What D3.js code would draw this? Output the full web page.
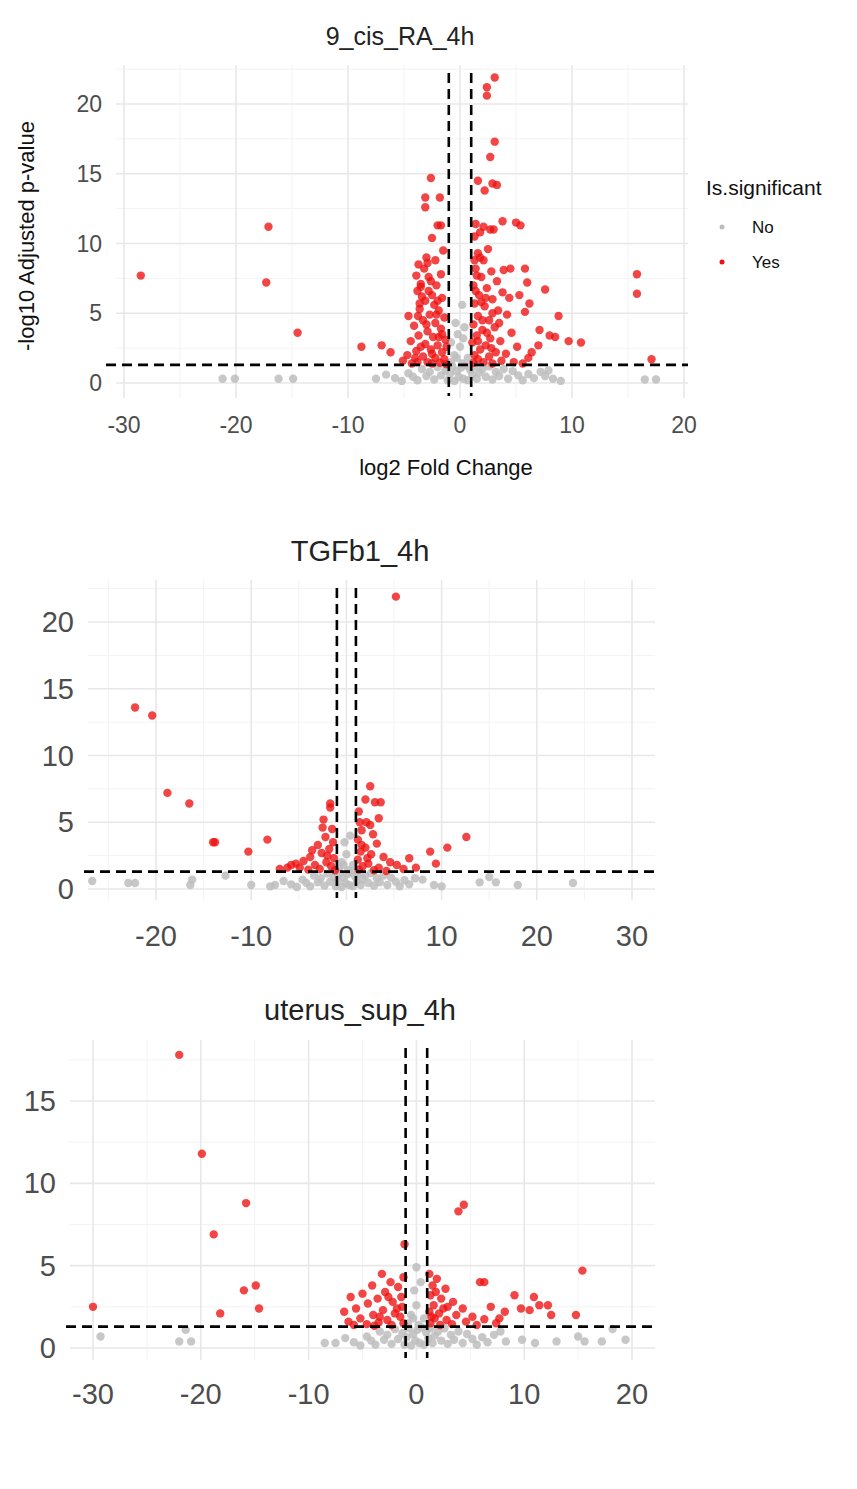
<!DOCTYPE html>
<html><head><meta charset="utf-8">
<script src="https://cdn.jsdelivr.net/npm/d3@7"></script>
<style>body{margin:0;background:#fff}text{font-family:"Liberation Sans",Arial,sans-serif}</style>
</head><body><svg id="c" width="857" height="1489"></svg>
<script>
const titles=["9_cis_RA_4h","TGFb1_4h","uterus_sup_4h"];
const xTicks=[[-30,-20,-10,0,10,20],[-20,-10,0,10,20,30],[-30,-20,-10,0,10,20]];
const yTicks=[[0,5,10,15,20],[0,5,10,15,20],[0,5,10,15]];
// shared dense grey band (non-significant genes near zero)
const band=[-5.8,0.35,-5.2,0.15,-4.6,0.7,-4.2,0.45,-3.8,0.2,-3.4,1.0,-3.0,0.5,-2.7,0.8,-2.3,0.25,-2.0,1.15,-1.7,0.55,-1.3,0.9,-1.1,0.2,-0.9,0.65,-0.7,1.2,-0.5,0.15,-0.3,0.85,-0.1,0.45,0.1,1.1,0.3,0.3,0.5,1.25,0.7,0.2,0.9,0.95,1.1,0.6,1.3,1.2,1.5,0.3,1.7,0.75,2.0,1.0,2.3,0.45,2.6,1.2,2.9,0.25,3.2,0.8,3.5,0.5,3.9,1.0,4.3,0.3,4.7,0.85,5.2,0.55,5.6,0.2,6.1,0.65,6.6,0.35,7.2,0.8,-6.6,0.6,-7.5,0.3,-0.2,3.5,0.4,4.0,-0.5,2.0,0.0,2.6,0.7,1.8,-0.8,1.5,0.2,1.4,-0.3,1.8];
// panel 1
const sig1=[-28.5,7.7,-17.1,11.2,-17.3,7.2,-14.5,3.6,-8.8,2.6,15.8,7.8,15.8,6.4,17.1,1.7,3.1,21.9,2.4,21.2,2.4,20.6,3.1,17.3,2.7,16.2,-2.6,14.7,1.6,14.5,2.9,14.3,3.3,14.2,2.2,13.8,-3.1,13.3,-3.1,12.6,-1.8,13.3,-2,11.3,-1.7,11.3,2.1,11.2,2.7,11.0,-2.5,10.4,-3,9,-3.7,8.5,5.8,8.2,4.5,8.2,6,7.2,5.3,6.3,7.6,6.7,6.2,5.7,5.8,5.1,-3.75,4.8,-4.6,4.8,7.1,3.8,8.8,4.8,8,3.4,8.5,3.3,9.7,3,10.8,2.9,-7,2.7,-6.2,2.2,3.8,11.6,5,11.5,5.4,11.3,
-1.5,9.5,-2.2,8.8,-3.2,8.2,-2.8,7.6,-3.5,7.1,-2.1,7,-3.8,6.6,-2.5,6.3,-1.6,6.1,-3.1,5.9,-2.3,5.6,-3.6,5.3,-1.9,5.2,-2.7,4.9,-1.4,4.7,-3.3,4.5,-2.2,4.3,-4.1,4.1,-1.7,3.9,-2.9,3.7,-3.7,3.4,-2.4,3.3,-1.3,3.1,-4.4,3,-3.1,2.8,-2,2.7,-2.6,2.4,-3.9,2.3,-1.6,2.2,-4.7,2,-3.3,1.9,-2.2,1.8,-1.4,1.7,-5.1,1.6,-2.9,1.5,-3.8,1.5,-1.8,1.45,-4.3,1.4,-2.5,1.4,-1.2,1.35,-3.5,6.9,-2.9,8.6,-3.9,7.7,-2.0,5.9,-1.2,2.6,
-2.6,7.3,-3.4,6.2,-2.1,4.9,-3.0,4.2,-1.6,3.5,-2.5,2.1,-3.5,2.6,-1.9,3.3,-4.0,1.8,-2.8,6.6,-1.7,7.8,-3.6,5.7,
1.3,10.5,1.6,9.3,2.1,8.8,1.4,8.2,2.8,8.0,1.9,7.6,3.3,7.3,1.2,7.0,2.4,6.8,3.8,6.5,1.7,6.3,2.9,6.0,1.3,5.7,2.2,5.5,3.4,5.2,4.2,4.9,1.6,4.8,2.6,4.5,1.2,4.2,3.1,4.0,2.0,3.8,4.6,3.6,1.5,3.4,2.7,3.2,3.6,3.0,1.1,2.9,2.3,2.7,5.1,2.6,1.8,2.4,3.2,2.2,4.1,2.1,1.3,2.0,2.6,1.9,6.1,1.8,1.6,1.7,3.7,1.6,2.1,1.5,4.8,1.5,1.2,1.45,2.9,1.4,5.6,1.4,7.0,2.7,6.4,2.2,3.9,8.1,2.5,9.6,1.8,10.8,4.4,6.1,3.0,11.0,1.4,11.4,
1.5,7.7,2.3,6.1,1.4,6.6,2.0,4.5,2.9,5.0,1.6,3.0,2.4,3.6,1.3,8.8,1.8,9.0,3.5,4.3,2.8,2.5,1.9,5.8];
const ns1=[-21.2,0.3,-20.1,0.3,-16.2,0.3,-14.9,0.3,16.5,0.25,17.5,0.25,-0.4,4.3,0.2,5.6,0.3,3.2,-0.8,2.9,7.6,0.5,8.3,0.3,9.0,0.15,7.9,0.9];
// panel 2
const sig2=[-22.2,13.6,-20.4,13,-18.8,7.2,-16.5,6.4,-14,3.5,-13.8,3.5,-10.3,2.8,-8.3,3.7,5.2,21.9,2.5,7.7,2,6.7,3.6,6.5,-1.7,6.4,3.4,5.3,-2.5,4.6,12.6,3.9,10.6,3.1,8.8,2.8,9.4,1.9,
-1.5,4.5,-2.2,3.9,-3.0,3.3,-1.8,3.0,-2.6,2.7,-3.8,2.4,-1.3,2.3,-4.5,2.1,-2.1,2.0,-5.3,1.9,-3.3,1.8,-1.6,1.7,-6.2,1.6,-2.8,1.5,-4.0,1.45,-1.2,1.4,-7.0,1.5,-2.4,5.2,-1.7,6.1,-5.8,1.8,-3.6,2.9,-1.4,3.5,-2.0,2.5,-4.9,1.6,
1.3,5.8,2.1,5.0,1.6,4.4,2.8,4.1,1.2,3.7,3.2,3.4,2.0,3.1,1.5,2.8,2.6,2.6,3.9,2.4,1.2,2.2,4.6,2.0,2.3,1.9,5.3,1.8,1.7,1.7,3.4,1.6,6.0,1.5,1.3,1.45,2.9,1.4,4.2,1.35,7.3,1.6,3.0,6.5,2.5,4.8,6.6,2.3,1.6,3.3,2.2,2.3,1.4,5.0];
const ns2=[-8,0.2,9.2,0.3,-26.7,0.6,-22.9,0.45,-22.2,0.45,-16.4,0.3,-16.2,0.7,-12.7,1.0,14.0,0.5,15.0,0.9,15.7,0.5,18.0,0.3,23.8,0.45,10,0.2,-10,0.3,8.0,0.7];
// panel 3
const sig3=[-22,17.8,-19.9,11.8,-18.8,6.9,-15.8,8.8,-16,3.5,-14.9,3.8,-14.6,2.4,-18.2,2.1,-30,2.5,-1.1,6.3,4.4,8.7,3.9,8.3,15.4,4.7,14.8,2,12.2,2.6,10.9,3.1,9.1,3.2,
-1.2,4.3,-2.4,4.0,-3.2,4.5,-1.7,3.7,-4.1,3.8,-2.9,3.4,-5.0,3.3,-1.4,3.1,-3.6,3.0,-6.1,3.1,-2.2,2.8,-4.5,2.7,-1.3,2.5,-5.6,2.4,-3.1,2.3,-6.7,2.2,-2.0,2.1,-4.0,2.0,-1.5,1.9,-5.2,1.8,-2.7,1.7,-6.3,1.6,-3.5,1.55,-1.2,1.5,-4.6,1.45,-2.3,1.4,-5.8,1.4,-3.9,1.35,-2.6,3.1,-1.8,2.4,-3.4,1.9,
1.2,4.5,1.9,4.2,1.5,3.8,2.7,3.6,1.3,3.2,2.3,3.0,3.4,2.8,1.6,2.6,2.9,2.5,4.3,2.4,1.2,2.2,2.1,2.1,3.7,2.0,5.2,1.9,1.7,1.8,2.8,1.7,6.3,1.75,4.6,1.6,1.3,1.5,3.3,1.45,7.4,1.5,2.2,1.4,5.6,1.4,8.2,2.2,6.9,2.5,7.7,1.8,10.5,2.3,12.5,2.0,5.9,4.0,6.3,4.0,11.4,2.6,9.7,2.4,1.8,3.4,2.5,2.4,1.4,1.9];
const ns3=[0,4.9,-8.5,0.3,9.8,0.5,11,0.3,13,0.4,-29.3,0.7,-21.4,1.1,-22,0.4,-20.9,0.4,15.0,0.7,15.6,0.4,17.2,0.4,18.2,1.15,19.4,0.5,8.3,0.4,7.8,1.0];

const panels=[
 {sig:sig1,ns:ns1,x:[124,684],xd:[-30,20],y:[383,104],yd:[0,20],top:65,bot:398,left:116,fs:23,ts:25,ty:36,tx:400,tickY:425},
 {sig:sig2,ns:ns2,x:[156,632],xd:[-20,30],y:[889,622],yd:[0,20],top:580,bot:900,left:88,right:655,fs:29,ts:29,ty:551,tx:360,tickY:936},
 {sig:sig3,ns:ns3,x:[93,632],xd:[-30,20],y:[1348,1101],yd:[0,15],top:1040,bot:1360,left:70,right:655,fs:29,ts:29,ty:1010,tx:360,tickY:1394}
];
const svg=d3.select("#c");
const pairs=a=>{const r=[];for(let i=0;i<a.length;i+=2)r.push([a[i],a[i+1]]);return r;};
panels.forEach((p,i)=>{
 const xs=d3.scaleLinear().domain(p.xd).range(p.x);
 const ys=d3.scaleLinear().domain(p.yd).range(p.y);
 const L=p.left, R=p.right||p.x[1]+4;
 const x0=xs.invert(L), x1=xs.invert(R), yt=ys.invert(p.top), yb=ys.invert(p.bot);
 const g=svg.append("g");
 const xmin=d3.range(Math.ceil(x0/5)*5,x1,5).filter(v=>v%10!==0);
 const ymin=d3.range(Math.ceil(yb/2.5)*2.5,yt,2.5).filter(v=>v%5!==0);
 g.selectAll(".vx").data(xmin).join("line").attr("x1",d=>xs(d)).attr("x2",d=>xs(d)).attr("y1",p.top).attr("y2",p.bot).attr("stroke","#f3f3f3").attr("stroke-width",1);
 g.selectAll(".vy").data(ymin).join("line").attr("y1",d=>ys(d)).attr("y2",d=>ys(d)).attr("x1",L).attr("x2",R).attr("stroke","#f3f3f3").attr("stroke-width",1);
 const xmaj=d3.range(Math.ceil(x0/10)*10,x1,10);
 g.selectAll(".mx").data(xmaj).join("line").attr("x1",d=>xs(d)).attr("x2",d=>xs(d)).attr("y1",p.top).attr("y2",p.bot).attr("stroke","#e8e8e8").attr("stroke-width",1.6);
 g.selectAll(".my").data(yTicks[i]).join("line").attr("y1",d=>ys(d)).attr("y2",d=>ys(d)).attr("x1",L).attr("x2",R).attr("stroke","#e8e8e8").attr("stroke-width",1.6);
 const greys=pairs(band).concat(pairs(p.ns));
 g.selectAll(".n").data(greys).join("circle").attr("cx",d=>xs(d[0])).attr("cy",d=>ys(d[1])).attr("r",4.2).attr("fill","#bdbdbd").attr("opacity",0.85);
 g.selectAll(".s").data(pairs(p.sig)).join("circle").attr("cx",d=>xs(d[0])).attr("cy",d=>ys(d[1])).attr("r",4.2).attr("fill","#ee1111").attr("opacity",0.78);
 [-1,1].forEach(v=>g.append("line").attr("x1",xs(v)).attr("x2",xs(v)).attr("y1",p.top+8).attr("y2",p.bot-2).attr("stroke","#000").attr("stroke-width",2.6).attr("stroke-dasharray","10,6"));
 g.append("line").attr("x1",L-10+(i?6:0)).attr("x2",R).attr("y1",ys(1.3)).attr("y2",ys(1.3)).attr("stroke","#000").attr("stroke-width",2.6).attr("stroke-dasharray","10,6");
 g.selectAll(".xt").data(xTicks[i]).join("text").attr("x",d=>xs(d)).attr("y",p.tickY).attr("text-anchor","middle").attr("dominant-baseline","central").attr("font-size",p.fs).attr("fill","#4d4d4d").text(d=>d);
 g.selectAll(".yt").data(yTicks[i]).join("text").attr("x",L-14).attr("y",d=>ys(d)).attr("text-anchor","end").attr("dominant-baseline","central").attr("font-size",p.fs).attr("fill","#4d4d4d").text(d=>d);
 g.append("text").attr("x",p.tx).attr("y",p.ty).attr("text-anchor","middle").attr("dominant-baseline","central").attr("font-size",p.ts).attr("fill","#222").text(titles[i]);
});
svg.append("text").attr("transform","translate(26,236) rotate(-90)").attr("text-anchor","middle").attr("dominant-baseline","central").attr("font-size",22).attr("fill","#111").text("-log10 Adjusted p-value");
svg.append("text").attr("x",446).attr("y",467).attr("text-anchor","middle").attr("dominant-baseline","central").attr("font-size",22).attr("fill","#111").text("log2 Fold Change");
const leg=svg.append("g");
leg.append("text").attr("x",706).attr("y",187).attr("dominant-baseline","central").attr("font-size",21).attr("fill","#111").text("Is.significant");
[["No","#bdbdbd",227],["Yes","#ee1111",262]].forEach(([t,c,y])=>{
 leg.append("circle").attr("cx",722).attr("cy",y).attr("r",2.5).attr("fill",c);
 leg.append("text").attr("x",752).attr("y",y).attr("dominant-baseline","central").attr("font-size",17).attr("fill","#111").text(t);
});
</script></body></html>
